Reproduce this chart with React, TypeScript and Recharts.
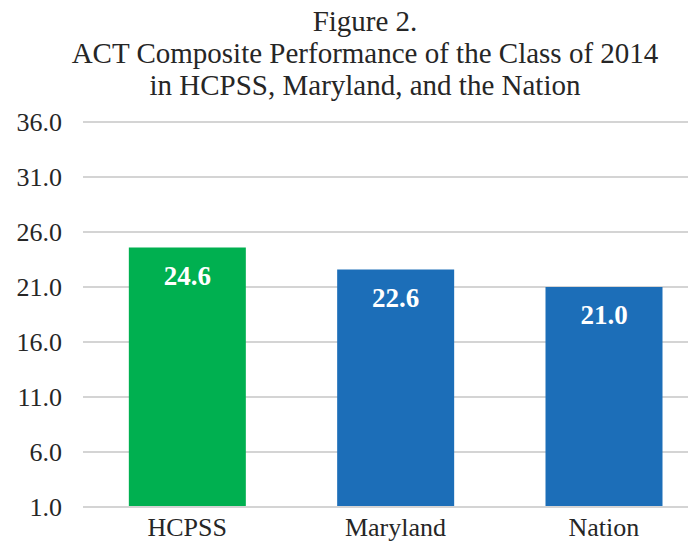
import React from 'react';
import { BarChart, Bar, XAxis, YAxis, CartesianGrid, Cell, LabelList } from 'recharts';

const categories = ['HCPSS', 'Maryland', 'Nation'];
const scores = [24.6, 22.6, 21.0];
const barColors = ['#00B050', '#1C6EB8', '#1C6EB8'];
const yTicks = [1, 6, 11, 16, 21, 26, 31, 36];
const titleLines = [
  'Figure 2.',
  'ACT Composite Performance of the Class of 2014',
  'in HCPSS, Maryland, and the Nation',
];

const data = categories.map((name, i) => ({ name, value: scores[i] }));

const font = '"Liberation Serif", "Times New Roman", serif';

const App: React.FC = () => {
  return (
    <div style={{ position: 'relative', width: 700, height: 533, fontFamily: font }}>
      <div
        style={{
          position: 'absolute',
          left: 0,
          top: -3,
          width: 714,
          textAlign: 'center',
          fontSize: 29,
          lineHeight: '32px',
          color: '#262626',
        }}
      >
        {titleLines.map((line) => (
          <div key={line}>{line}</div>
        ))}
      </div>
      <BarChart
        width={700}
        height={533}
        data={data}
        margin={{ top: 114, right: 0, bottom: 4, left: 0 }}
        barCategoryGap="22%"
        style={{ overflow: 'visible' }}
      >
        <CartesianGrid horizontal vertical={false} stroke="#D4D4D4" strokeWidth={2} />
        <XAxis
          dataKey="name"
          axisLine={{ stroke: '#D4D4D4', strokeWidth: 2 }}
          tickLine={false}
          tickSize={0}
          tickMargin={11}
          height={30}
          tick={{ fill: '#262626', fontSize: 26, fontFamily: font }}
        />
        <YAxis
          type="number"
          domain={[1, 36]}
          ticks={yTicks}
          width={75}
          axisLine={false}
          tickLine={false}
          tickSize={0}
          tickMargin={21}
          tickFormatter={(v: number) => v.toFixed(1)}
          tick={{ fill: '#262626', fontSize: 26, fontFamily: font }}
        />
        <Bar dataKey="value" isAnimationActive={false}>
          {data.map((d, i) => (
            <Cell key={d.name} fill={barColors[i]} />
          ))}
          <LabelList
            dataKey="value"
            position="insideTop"
            offset={18}
            formatter={(v: number) => v.toFixed(1)}
            fill="#FFFFFF"
            fontSize={27}
            fontWeight="bold"
            fontFamily={font}
          />
        </Bar>
      </BarChart>
    </div>
  );
};

export default App;
